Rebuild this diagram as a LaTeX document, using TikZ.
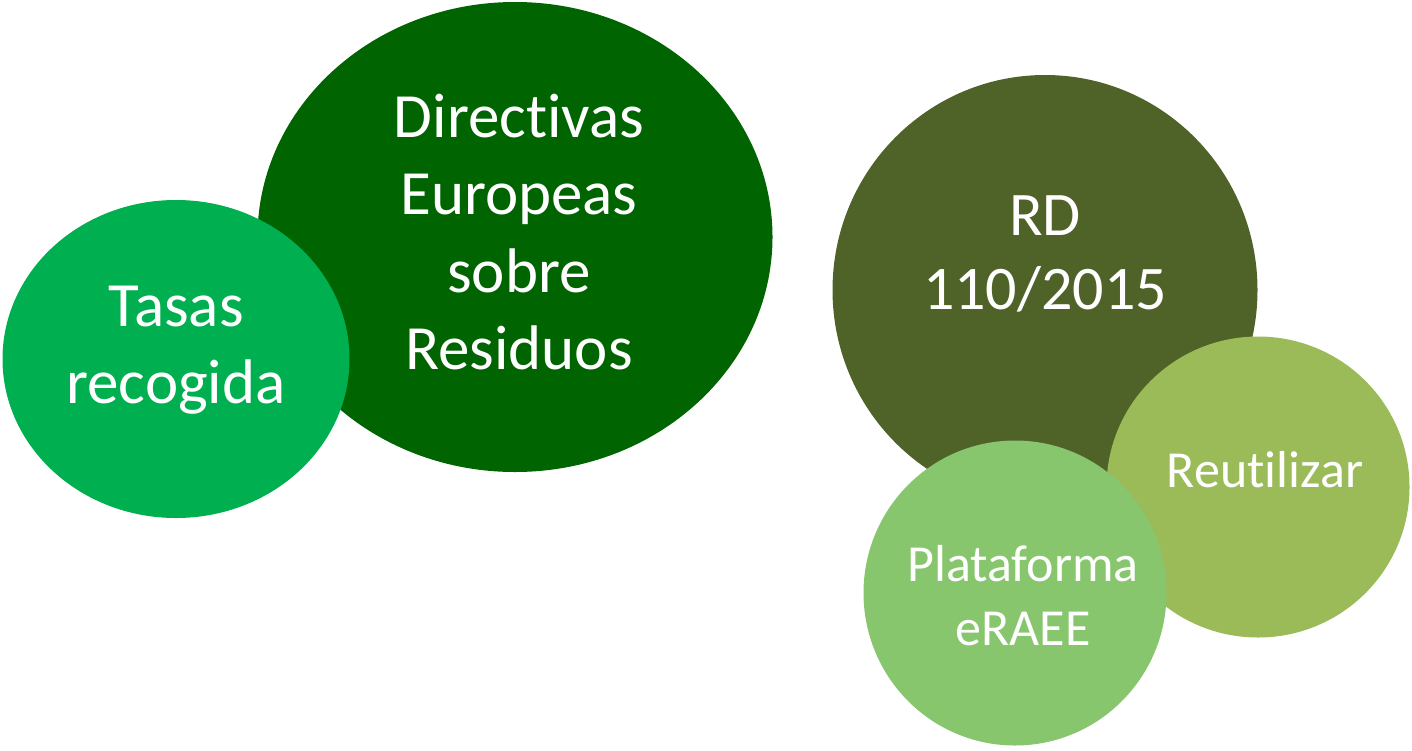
\documentclass[tikz,border=0pt]{standalone}
\usepackage{fontspec}
\setmainfont{Carlito}[Ligatures=NoCommon]
\usetikzlibrary{shapes.geometric}
\definecolor{cDir}{RGB}{0,100,0}
\definecolor{cTasa}{RGB}{0,176,80}
\definecolor{cRD}{RGB}{79,98,40}
\definecolor{cReu}{RGB}{155,187,89}
\definecolor{cPla}{RGB}{136,198,110}
\tikzset{
  blob/.style={ellipse, draw=none, inner sep=0pt},
  lbl/.style={text=white, align=center, inner sep=0pt}
}
\begin{document}
\begin{tikzpicture}[x=1pt,y=-1pt]
\useasboundingbox (0,0) rectangle (1412,750);
% left group
\node[blob, fill=cDir, minimum width=515pt, minimum height=470pt] (dir) at (515,237) {};
\node[blob, fill=cTasa, minimum width=347pt, minimum height=318pt] (tasa) at (176,359) {};
\node[lbl, font=\fontsize{63}{77.5}\selectfont] (tdir) at (519,232) {Directivas\\Europeas\\sobre\\Residuos};
\node[lbl, font=\fontsize{63}{77}\selectfont] (ttasa) at (176,350) {Tasas\\recogida};
% right group
\node[blob, fill=cRD, minimum width=425pt, minimum height=430pt] (rd) at (1045,290) {};
\node[blob, fill=cReu, minimum width=303pt, minimum height=301pt] (reu) at (1258,487) {};
\node[blob, fill=cPla, minimum width=303pt, minimum height=305pt] (pla) at (1015,593) {};
\node[lbl, font=\fontsize{62}{74}\selectfont] (trd) at (1045,254) {RD\\110/2015};
\node[lbl, font=\fontsize{52}{64}\selectfont] (treu) at (1265,470) {Reutilizar};
\node[lbl, font=\fontsize{52}{64}\selectfont] (tpla) at (1023,596) {Plataforma\\eRAEE};
\end{tikzpicture}
\end{document}
